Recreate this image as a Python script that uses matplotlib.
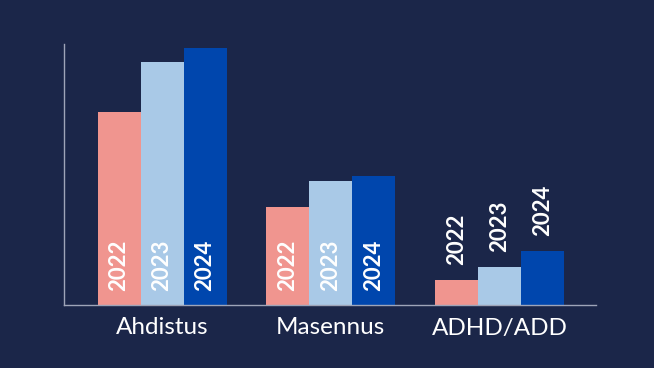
import numpy as np
from matplotlib import pyplot as plt

categories = ["Ahdistus", "Masennus", "ADHD/ADD"]
years = ["2022", "2023", "2024"]
values_2022 = [193, 98, 25]
values_2023 = [243, 124, 38]
values_2024 = [257, 129, 54]

bg = "#1b2649"
colors = ["#f0958f", "#a9c9e7", "#0046ad"]

plt.rcParams["font.family"] = ["Lato", "DejaVu Sans"]

fig = plt.figure(figsize=(6.54, 3.68), dpi=100, facecolor=bg)
ax = fig.add_axes([64 / 654, 63 / 368, 532 / 654, 261 / 368], facecolor=bg)

x = np.arange(len(categories))
w = 43 / 168.75
series = [values_2022, values_2023, values_2024]

for i, (vals, year, c) in enumerate(zip(series, years, colors)):
    xs = x + (i - 1) * w
    ax.bar(xs, vals, width=w, color=c, edgecolor="none")
    for xi, v in zip(xs, vals):
        if v > 60:
            # label inside the bar, near the base
            ax.annotate(year, (xi, 0), xytext=(0, 10), textcoords="offset points",
                        rotation=90, ha="center", va="bottom", color="white",
                        fontsize=16, fontweight="bold")
        else:
            ax.annotate(year, (xi, v), xytext=(0, 11), textcoords="offset points",
                        rotation=90, ha="center", va="bottom", color="white",
                        fontsize=16, fontweight="bold")

ax.set_xlim(-0.581, 2.572)
ax.set_ylim(0, 261)
ax.set_xticks(x)
ax.set_xticklabels(categories, color="white", fontsize=17.5)
ax.tick_params(axis="x", length=0, pad=9)
ax.set_yticks([])
for s in ["top", "right"]:
    ax.spines[s].set_visible(False)
for s in ["left", "bottom"]:
    ax.spines[s].set_color("#9ea4b8")
    ax.spines[s].set_linewidth(1)

plt.savefig("out.png", dpi=100, facecolor=bg)
